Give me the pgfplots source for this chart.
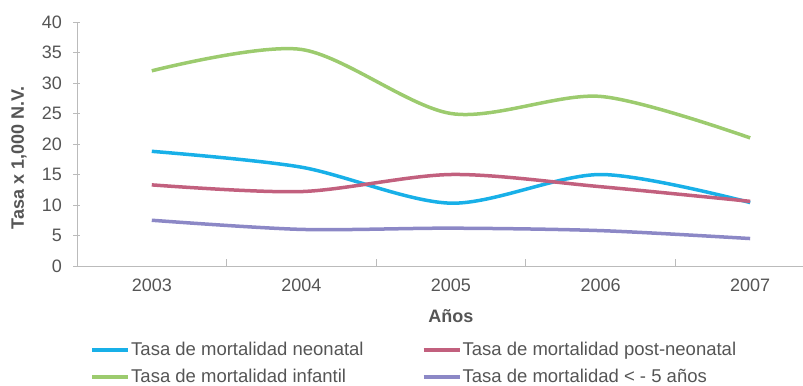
\documentclass[border=0pt]{standalone}
\usepackage{pgfplots}
\pgfplotsset{compat=1.18}
\usepackage{fontspec}
\setmainfont{Liberation Sans}
\definecolor{cblue}{HTML}{18B0E8}
\definecolor{cred}{HTML}{C2607E}
\definecolor{cgreen}{HTML}{9CCB6E}
\definecolor{cpurple}{HTML}{8C88C6}
\definecolor{txt}{HTML}{555555}
\definecolor{axc}{HTML}{BBBBBB}
\begin{document}
\begin{tikzpicture}
\useasboundingbox (-77bp,-120bp) rectangle (726bp,266bp);
\begin{axis}[
  scale only axis,
  width=736bp, height=244bp,
  xmin=-0.5, xmax=4.42,
  ymin=0, ymax=40,
  axis lines*=left,
  axis line style={-, draw=axc, line width=0.8bp},
  ytick={0,5,...,40},
  ytick align=center,
  tick style={draw=axc, line width=0.6bp},
  major tick length=7bp,
  xtick={0.5,1.5,2.5,3.5},
  xticklabels={},
  xtick align=inside,
  extra x ticks={0,1,2,3,4},
  extra x tick labels={2003,2004,2005,2006,2007},
  extra x tick style={tick style={draw=none}},
  /pgf/number format/assume math mode=true,
  tick label style={font=\fontsize{18bp}{21bp}\selectfont, text=txt},
  yticklabel style={xshift=-8bp},
  xticklabel style={yshift=-9bp},
  every axis y label/.style={at={(axis description cs:0,0.5)}, rotate=90, anchor=center, yshift=58bp, xshift=-14bp},
  every axis x label/.style={at={(axis cs:2,0)}, anchor=center, yshift=-50bp},
  ylabel={Tasa x 1,000 N.V.},
  xlabel={Años},
  label style={font=\bfseries\fontsize{18bp}{21bp}\selectfont, text=txt},
  legend columns=2,
  legend cell align=left,
  legend style={at={(axis description cs:0,0)}, anchor=north west, xshift=13bp, yshift=-75bp,
    draw=none, fill=none, font=\fontsize{18.5bp}{21bp}\selectfont, text=txt,
    /tikz/every even column/.append style={column sep=57bp},
    row sep=10bp, inner sep=0pt,
    nodes={inner sep=1bp}},
  legend image code/.code={\draw[#1, line width=4bp] (0bp,0bp) -- (36bp,0bp);},
  clip=false
]
\addplot[cblue, line width=3.5bp, smooth] coordinates {(0,18.8) (1,16.2) (2,10.3) (3,15.0) (4,10.4)};
\addlegendentry{Tasa de mortalidad neonatal}
\addplot[cred, line width=3.5bp, smooth] coordinates {(0,13.3) (1,12.2) (2,15.0) (3,13.0) (4,10.6)};
\addlegendentry{Tasa de mortalidad post-neonatal}
\addplot[cgreen, line width=3.5bp, smooth] coordinates {(0,32.0) (1,35.5) (2,25.0) (3,27.8) (4,21.0)};
\addlegendentry{Tasa de mortalidad infantil}
\addplot[cpurple, line width=3.5bp, smooth] coordinates {(0,7.5) (1,6.0) (2,6.2) (3,5.8) (4,4.5)};
\addlegendentry{Tasa de mortalidad < - 5 años}
\end{axis}
\end{tikzpicture}
\end{document}
